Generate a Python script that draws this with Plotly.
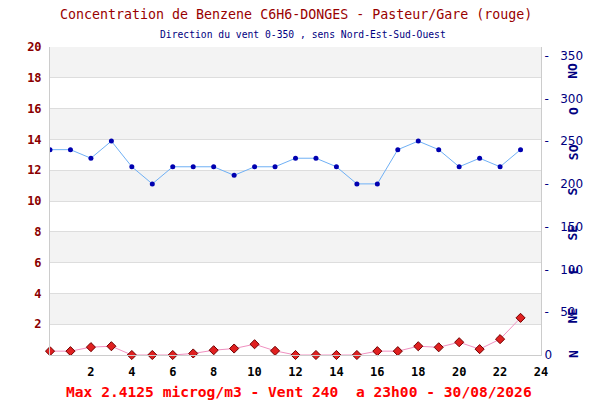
import plotly.graph_objects as go

hours = list(range(24))
benzene = [0.25, 0.25, 0.51, 0.57, 0.0, 0.0, 0.0, 0.1, 0.31, 0.42, 0.7, 0.27,
           0.0, 0.0, 0.0, 0.0, 0.25, 0.25, 0.57, 0.5, 0.83, 0.38, 1.03, 2.4125]
vent = [240, 240, 230, 250, 220, 200, 220, 220, 220, 210, 220, 220,
        230, 230, 220, 200, 200, 240, 250, 240, 220, 230, 220, 240]

left_ticks = [2, 4, 6, 8, 10, 12, 14, 16, 18, 20]
x_ticks = [2, 4, 6, 8, 10, 12, 14, 16, 18, 20, 22, 24]
right_ticks = [0, 50, 100, 150, 200, 250, 300, 350]
right_text = ["0"] + ["-   " + str(v) for v in right_ticks[1:]]
directions = ["N", "NE", "E", "SE", "S", "SO", "O", "NO"]
dir_pos = [1, 46, 99, 143, 191, 237, 285, 332]

mono = "DejaVu Sans Mono"

fig = go.Figure()

# alternating grey bands behind the plot
for lo in range(2, 20, 4):
    fig.add_shape(type="rect", xref="paper", yref="y", x0=0, x1=1, y0=lo, y1=lo + 2,
                  fillcolor="#f3f3f3", line_width=0, layer="below")

fig.add_trace(go.Scatter(
    x=hours, y=vent, yaxis="y2", mode="lines+markers",
    line=dict(color="#6fb0f5", width=1),
    marker=dict(color="#0000b0", size=5),
))
fig.add_trace(go.Scatter(
    x=hours, y=benzene, mode="lines+markers", cliponaxis=False,
    line=dict(color="#f090c0", width=1),
    marker=dict(symbol="diamond", color="#e02020", size=7,
                line=dict(color="#700000", width=1)),
))

for d, p in zip(directions, dir_pos):
    fig.add_annotation(x=1.065, xref="paper", y=p, yref="y2", text="<b>" + d + "</b>",
                       textangle=-90, showarrow=False, xanchor="center", yanchor="middle",
                       font=dict(family=mono, size=13, color="#000080"))

# titles and footer
fig.add_annotation(x=0.501, y=1.107, xref="paper", yref="paper", showarrow=False,
                   xanchor="center", yanchor="middle",
                   text="Concentration de Benzene C6H6-DONGES - Pasteur/Gare (rouge)",
                   font=dict(family=mono, size=13.3, color="#990000"))
fig.add_annotation(x=0.515, y=1.042, xref="paper", yref="paper", showarrow=False,
                   xanchor="center", yanchor="middle",
                   text="Direction du vent 0-350 , sens Nord-Est-Sud-Ouest",
                   font=dict(family=mono, size=9.7, color="#000080"))
fig.add_annotation(x=0.508, y=-0.117, xref="paper", yref="paper", showarrow=False,
                   xanchor="center", yanchor="middle",
                   text="<b>Max 2.4125 microg/m3 - Vent 240  a 23h00 - 30/08/2026</b>",
                   font=dict(family=mono, size=14.6, color="#ff0000"))

fig.update_layout(
    width=592, height=392,
    margin=dict(l=42, r=59, t=39, b=45),
    paper_bgcolor="white", plot_bgcolor="white",
    showlegend=False,
    xaxis=dict(range=[0, 24], tickvals=x_ticks, showgrid=False, zeroline=False,
               showline=True, linecolor="#cccccc", ticklabelstandoff=6,
               tickfont=dict(family=mono, size=12, color="black", weight="bold")),
    yaxis=dict(range=[0, 20], tickvals=left_ticks, showgrid=True, gridcolor="#dddddd",
               zeroline=False, showline=True, linecolor="#cccccc", ticklabelstandoff=5,
               tickfont=dict(family=mono, size=12, color="#8b0000", weight="bold")),
    yaxis2=dict(range=[0, 360], tickvals=right_ticks, ticktext=right_text,
                overlaying="y", side="right",
                showgrid=False, zeroline=False, showline=True, linecolor="#cccccc",
                tickfont=dict(family="DejaVu Sans", size=12, color="#000080")),
)

fig.write_html("out.html")
